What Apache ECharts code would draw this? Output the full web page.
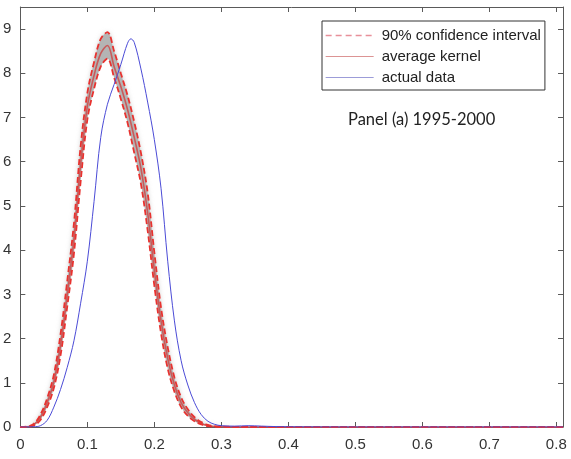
<!DOCTYPE html>
<html><head><meta charset="utf-8">
<script src="https://cdn.jsdelivr.net/npm/echarts@6/dist/echarts.min.js"></script>
<style>html,body{margin:0;padding:0;background:#fff}#c{width:571px;height:459px}</style>
</head><body><div id="c"></div>
<script>
var xKernel = [0,0.01,0.02,0.03,0.04,0.05,0.06,0.07,0.08,0.09,0.10,0.11,0.12,0.13,0.14,0.15,0.16,0.17,0.18,0.19,0.20,0.21,0.22,0.23,0.24,0.25,0.26,0.27,0.28,0.29,0.30,0.32,0.34,0.36,0.38,0.40,0.50,0.60,0.70,0.81];
var avgKernel = [0,0.005,0.05,0.22,0.55,1.02,1.85,3.0,4.25,5.95,7.25,7.95,8.45,8.63,8.15,7.7,7.18,6.55,5.85,4.85,3.55,2.4,1.55,0.95,0.55,0.32,0.17,0.08,0.03,0.01,0.005,0.002,0,0,0,0,0,0,0,0];
var upperCI = [0,0.01,0.07,0.28,0.65,1.18,2.1,3.3,4.6,6.35,7.55,8.25,8.78,8.93,8.5,8.0,7.5,6.9,6.2,5.3,3.95,2.7,1.8,1.12,0.67,0.4,0.22,0.11,0.05,0.02,0.01,0.004,0,0,0,0,0,0,0,0];
var lowerCI = [0,0.002,0.03,0.16,0.45,0.88,1.62,2.72,3.92,5.55,6.95,7.65,8.15,8.33,7.9,7.42,6.88,6.2,5.5,4.45,3.2,2.12,1.32,0.8,0.45,0.25,0.13,0.06,0.02,0.006,0.002,0,0,0,0,0,0,0,0,0];
var xActual = [0,0.01,0.02,0.03,0.04,0.05,0.06,0.07,0.08,0.09,0.10,0.11,0.12,0.13,0.14,0.15,0.16,0.165,0.17,0.18,0.19,0.20,0.21,0.22,0.23,0.24,0.25,0.26,0.27,0.28,0.29,0.30,0.32,0.34,0.36,0.38,0.40,0.50,0.60,0.70,0.81];
var actualData = [0,0.001,0.005,0.03,0.15,0.45,0.85,1.35,1.95,2.8,3.75,5.1,6.55,7.3,7.75,8.2,8.68,8.78,8.7,8.1,7.35,6.5,5.4,3.75,2.4,1.5,0.95,0.55,0.28,0.13,0.06,0.03,0.02,0.03,0.02,0.01,0.005,0,0,0,0];
var legendNames = ['90% confidence interval','average kernel','actual data'];
var panelTitle = 'Panel (a) 1995-2000';

function pairs(xs, ys){ return xs.map(function(x,i){ return [x, ys[i]]; }); }

var axisCol = '#5a5a5a';
var fontFam = 'Liberation Sans, Arial, sans-serif';
function mkAxis(extra){
  return Object.assign({
    type:'value', splitLine:{show:false}, z:1.8,
    axisLine:{show:true, onZero:false, lineStyle:{color:axisCol, width:1}},
    axisTick:{show:true, inside:true, length:5, lineStyle:{color:axisCol}}
  }, extra);
}
var smoothOpt = {smooth:0.35, symbol:'none', showSymbol:false};
var chart = echarts.init(document.getElementById('c'), null, {renderer:'canvas'});
chart.setOption({
  animation:false,
  backgroundColor:'#fff',
  grid:{left:20, right:8, top:7, bottom:32, containLabel:false},
  title:{text:panelTitle, left:343, top:106, textStyle:{fontFamily:'Lato, sans-serif', fontWeight:'normal', fontSize:16.5, color:'#222'}},
  legend:{
    orient:'vertical', left:322, top:21, itemWidth:48, itemHeight:14, itemGap:6,
    padding:[7,4,5,3], borderColor:'#333', borderWidth:1, backgroundColor:'#fff',
    textStyle:{color:'#222', fontFamily:fontFam, fontSize:15, padding:[0,0,0,3]},
    data:[
      {name:legendNames[0], itemStyle:{opacity:0}, lineStyle:{color:'#e8909a', width:1.3, type:[6,4]}},
      {name:legendNames[1], itemStyle:{opacity:0}, lineStyle:{color:'#dc9494', width:1.2}},
      {name:legendNames[2], itemStyle:{opacity:0}, lineStyle:{color:'#9c9cd8', width:1.2}}
    ]
  },
  xAxis:[
    mkAxis({min:0, max:0.81, interval:0.1, position:'bottom',
      axisLabel:{show:true, margin:10, showMaxLabel:false, color:'#333', fontSize:15, fontFamily:fontFam}}),
    mkAxis({min:0, max:0.81, interval:0.1, position:'top', axisLabel:{show:false}})
  ],
  yAxis:[
    mkAxis({min:0, max:9.5, interval:1, position:'left',
      axisLabel:{show:true, margin:9, showMaxLabel:false, color:'#333', fontSize:15, fontFamily:fontFam}}),
    mkAxis({min:0, max:9.5, interval:1, position:'right', axisLabel:{show:false}})
  ],
  series:[
    Object.assign({type:'line', name:'bandUpperFill', data:pairs(xKernel, upperCI), silent:true,
      lineStyle:{opacity:0}, areaStyle:{color:'#b4b4b4', opacity:1, shadowBlur:5, shadowColor:'rgba(170,170,170,0.6)'}, z:1}, smoothOpt),
    Object.assign({type:'line', name:'bandLowerMask', data:pairs(xKernel, lowerCI), silent:true,
      lineStyle:{opacity:0}, areaStyle:{color:'#ffffff', opacity:1}, z:1.5}, smoothOpt),
    Object.assign({type:'line', name:legendNames[1], data:pairs(xKernel, avgKernel),
      lineStyle:{color:'#c85a5a', width:1.6}, itemStyle:{color:'#c85a5a'}, z:3}, smoothOpt),
    Object.assign({type:'line', name:legendNames[0], data:pairs(xKernel, upperCI),
      lineStyle:{color:'#e8322f', width:1.8, type:[6,3]}, itemStyle:{color:'#e8322f'}, z:4}, smoothOpt),
    Object.assign({type:'line', name:legendNames[0], data:pairs(xKernel, lowerCI),
      lineStyle:{color:'#e8322f', width:1.8, type:[6,3]}, itemStyle:{color:'#e8322f'}, z:4}, smoothOpt),
    Object.assign({type:'line', name:legendNames[2], data:pairs(xActual, actualData),
      lineStyle:{color:'#4b4bd6', width:1}, itemStyle:{color:'#4b4bd6'}, z:5}, smoothOpt)
  ]
});
</script></body></html>
